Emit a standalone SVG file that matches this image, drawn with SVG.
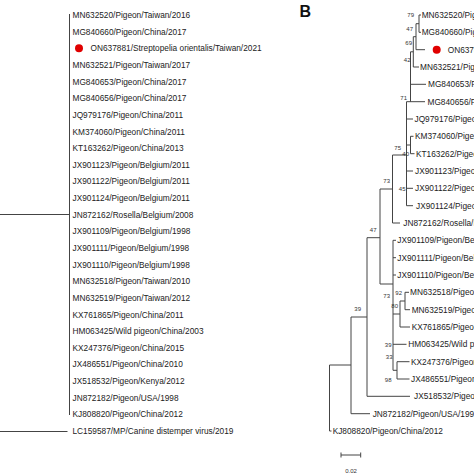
<svg xmlns="http://www.w3.org/2000/svg" width="474" height="474" viewBox="0 0 474 474">
<style>
.t{font-family:"Liberation Sans",Arial,sans-serif;font-size:8.3px;fill:#222}
.b{font-family:"Liberation Sans",Arial,sans-serif;font-size:6px;fill:#333;text-anchor:end}
.s{font-family:"Liberation Sans",Arial,sans-serif;font-size:6px;fill:#333;text-anchor:middle}
.h{font-family:"Liberation Sans",Arial,sans-serif;font-size:16px;font-weight:bold;fill:#111}
.c line,.c path{stroke:#444;stroke-width:1;fill:none}
.dot{fill:#e00000}
</style>
<rect width="474" height="474" fill="#fff"/>
<g id="connectors" class="c">
<!-- panel A -->
<line x1="69.5" y1="14" x2="69.5" y2="415"/>
<line x1="0" y1="214.5" x2="69.5" y2="214.5"/>
<line x1="0" y1="431.5" x2="67.5" y2="431.5"/>
<!-- panel B -->
<path d="M329.5,365 V431 M329.5,431 H331.5 M329.5,365 H351"/>
<path d="M351,317 V413.7 M351,413.7 H370 M351,317 H367"/>
<path d="M367,237.7 V396.3 M367,396.3 H410 M367,237.7 H380"/>
<path d="M380,189 V284 M380,189 H392.5 M380,284 H393"/>
<path d="M392.5,155 V223 M392.5,223 H400 M392.5,155 H406.5"/>
<path d="M406.5,101.7 V205.7 M406.5,171 H413 M406.5,188.3 H413 M406.5,205.7 H413"/>
<path d="M406.5,145 H410.5 M410.5,136.3 V153.7 M410.5,136.3 H413.5 M410.5,153.7 H414.5 M406.5,119 H413"/>
<path d="M406.5,101.7 H425 M410.5,51.8 V101.7 M410.5,84.3 H426"/>
<path d="M410.5,51.8 H413.3 M413.3,36.7 V67 M413.3,67 H419 M413.3,36.7 H416"/>
<path d="M416,23.7 V49.7 M416,49.7 H425 M416,23.7 H419 M419,15 V32.3 M419,15 H421 M419,32.3 H421"/>
<path d="M393,240.3 V370.3 M393,240.3 H396 M393,257.7 H396 M393,275 H396"/>
<path d="M393,314 H400 M400,301 V327 M400,301 H405 M405,292.3 V309.7 M405,292.3 H409 M405,309.7 H410 M400,327 H410"/>
<path d="M393,344.3 H406.5 M393,370.3 H397 M397,361.7 V379 M397,361.7 H409.5 M397,379 H409.5"/>
<path d="M341,455 H360.7 M341,452.5 V457.5 M360.7,452.5 V457.5"/>
</g>
<g id="panelA">
<g id="a1"><text class="t" x="72.5" y="18">MN632520/Pigeon/Taiwan/2016</text></g>
<g id="a2"><text class="t" x="72.5" y="34.6">MG840660/Pigeon/China/2017</text></g>
<g id="a3"><circle class="dot" cx="79" cy="48.3" r="4"/><text class="t" x="90.5" y="51.3">ON637881/Streptopelia orientalis/Taiwan/2021</text></g>
<g id="a4"><text class="t" x="72.5" y="67.9">MN632521/Pigeon/Taiwan/2017</text></g>
<g id="a5"><text class="t" x="72.5" y="84.6">MG840653/Pigeon/China/2017</text></g>
<g id="a6"><text class="t" x="72.5" y="101.2">MG840656/Pigeon/China/2017</text></g>
<g id="a7"><text class="t" x="72.5" y="117.8">JQ979176/Pigeon/China/2011</text></g>
<g id="a8"><text class="t" x="72.5" y="134.5">KM374060/Pigeon/China/2011</text></g>
<g id="a9"><text class="t" x="72.5" y="151.1">KT163262/Pigeon/China/2013</text></g>
<g id="a10"><text class="t" x="72.5" y="167.8">JX901123/Pigeon/Belgium/2011</text></g>
<g id="a11"><text class="t" x="72.5" y="184.4">JX901122/Pigeon/Belgium/2011</text></g>
<g id="a12"><text class="t" x="72.5" y="201">JX901124/Pigeon/Belgium/2011</text></g>
<g id="a13"><text class="t" x="72.5" y="217.7">JN872162/Rosella/Belgium/2008</text></g>
<g id="a14"><text class="t" x="72.5" y="234.3">JX901109/Pigeon/Belgium/1998</text></g>
<g id="a15"><text class="t" x="72.5" y="251">JX901111/Pigeon/Belgium/1998</text></g>
<g id="a16"><text class="t" x="72.5" y="267.6">JX901110/Pigeon/Belgium/1998</text></g>
<g id="a17"><text class="t" x="72.5" y="284.2">MN632518/Pigeon/Taiwan/2010</text></g>
<g id="a18"><text class="t" x="72.5" y="300.9">MN632519/Pigeon/Taiwan/2012</text></g>
<g id="a19"><text class="t" x="72.5" y="317.5">KX761865/Pigeon/China/2011</text></g>
<g id="a20"><text class="t" x="72.5" y="334.2">HM063425/Wild pigeon/China/2003</text></g>
<g id="a21"><text class="t" x="72.5" y="350.8">KX247376/Pigeon/China/2015</text></g>
<g id="a22"><text class="t" x="72.5" y="367.4">JX486551/Pigeon/China/2010</text></g>
<g id="a23"><text class="t" x="72.5" y="384.1">JX518532/Pigeon/Kenya/2012</text></g>
<g id="a24"><text class="t" x="72.5" y="400.7">JN872182/Pigeon/USA/1998</text></g>
<g id="a25"><text class="t" x="72.5" y="417.4">KJ808820/Pigeon/China/2012</text></g>
<g id="a26"><text class="t" x="72.5" y="434">LC159587/MP/Canine distemper virus/2019</text></g>
</g>
<g id="panelB">
<g id="labelB"><text class="h" x="299.5" y="17">B</text></g>
<g id="b1"><text class="t" x="421.7" y="18">MN632520/Pigeon/Taiwan/2016</text></g>
<g id="b2"><text class="t" x="421.7" y="35.3">MG840660/Pigeon/China/2017</text></g>
<g id="b3"><circle class="dot" cx="436.7" cy="49.7" r="4"/><text class="t" x="447.7" y="52.7">ON637881/Streptopelia orientalis/Taiwan/2021</text></g>
<g id="b4"><text class="t" x="420" y="70">MN632521/Pigeon/Taiwan/2017</text></g>
<g id="b5"><text class="t" x="428" y="87.3">MG840653/Pigeon/China/2017</text></g>
<g id="b6"><text class="t" x="427.5" y="104.7">MG840656/Pigeon/China/2017</text></g>
<g id="b7"><text class="t" x="414.5" y="122">JQ979176/Pigeon/China/2011</text></g>
<g id="b8"><text class="t" x="415" y="139.3">KM374060/Pigeon/China/2011</text></g>
<g id="b9"><text class="t" x="416" y="156.7">KT163262/Pigeon/China/2013</text></g>
<g id="b10"><text class="t" x="415" y="174">JX901123/Pigeon/Belgium/2011</text></g>
<g id="b11"><text class="t" x="415" y="191.3">JX901122/Pigeon/Belgium/2011</text></g>
<g id="b12"><text class="t" x="416" y="208.7">JX901124/Pigeon/Belgium/2011</text></g>
<g id="b13"><text class="t" x="403.3" y="226">JN872162/Rosella/Belgium/2008</text></g>
<g id="b14"><text class="t" x="397.3" y="243.3">JX901109/Pigeon/Belgium/1998</text></g>
<g id="b15"><text class="t" x="397.3" y="260.7">JX901111/Pigeon/Belgium/1998</text></g>
<g id="b16"><text class="t" x="397.3" y="278">JX901110/Pigeon/Belgium/1998</text></g>
<g id="b17"><text class="t" x="410" y="295.3">MN632518/Pigeon/Taiwan/2010</text></g>
<g id="b18"><text class="t" x="411.7" y="312.7">MN632519/Pigeon/Taiwan/2012</text></g>
<g id="b19"><text class="t" x="411.7" y="330">KX761865/Pigeon/China/2011</text></g>
<g id="b20"><text class="t" x="408.3" y="347.3">HM063425/Wild pigeon/China/2003</text></g>
<g id="b21"><text class="t" x="411" y="364.7">KX247376/Pigeon/China/2015</text></g>
<g id="b22"><text class="t" x="411" y="382">JX486551/Pigeon/China/2010</text></g>
<g id="b23"><text class="t" x="414" y="399.3">JX518532/Pigeon/Kenya/2012</text></g>
<g id="b24"><text class="t" x="372.7" y="416.7">JN872182/Pigeon/USA/1998</text></g>
<g id="b25"><text class="t" x="332.7" y="434">KJ808820/Pigeon/China/2012</text></g>
<g id="bootstrap">
<text class="b" x="414" y="17">79</text>
<text class="b" x="413" y="31">47</text>
<text class="b" x="412" y="45">69</text>
<text class="b" x="410.5" y="62">42</text>
<text class="b" x="407" y="100">71</text>
<text class="b" x="401" y="150">75</text>
<text class="b" x="409" y="156">40</text>
<text class="b" x="390" y="183">73</text>
<text class="b" x="405.5" y="191">45</text>
<text class="b" x="376.5" y="232">47</text>
<text class="b" x="402" y="295">92</text>
<text class="b" x="390" y="298">73</text>
<text class="b" x="398" y="308">80</text>
<text class="b" x="361" y="311">39</text>
<text class="b" x="391.5" y="347">39</text>
<text class="b" x="392.5" y="359">33</text>
<text class="b" x="391.5" y="382">98</text>
</g>
<g id="scale"><text class="s" x="351" y="473">0.02</text></g>
</g>
</svg>
